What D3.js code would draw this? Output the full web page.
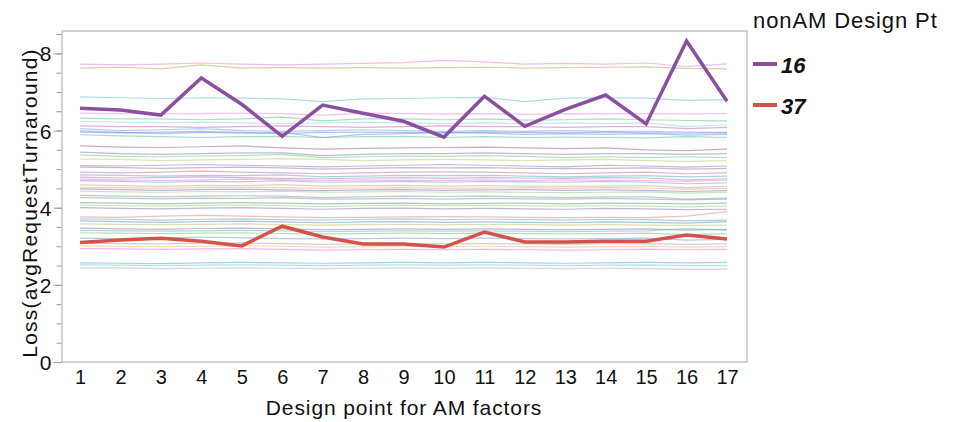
<!DOCTYPE html>
<html>
<head>
<meta charset="utf-8">
<script src="https://cdn.jsdelivr.net/npm/d3@7"></script>
<style>
  body { margin: 0; background: #fff; }
  svg text { font-family: "Liberation Sans", Arial, Helvetica, sans-serif; fill: #111; }
</style>
</head>
<body>
<svg id="chart" width="953" height="422"></svg>
<script>

// Design points for AM factors (x axis)
const designPoints = d3.range(1, 18);
const yTicks = [0, 2, 4, 6, 8];

// Highlighted nonAM design points
const pt16 = [6.58, 6.53, 6.40, 7.36, 6.68, 5.85, 6.66, 6.45, 6.24, 5.83, 6.89, 6.11, 6.55, 6.92, 6.17, 8.32, 6.76];
const pt37 = [3.10, 3.16, 3.21, 3.13, 3.01, 3.52, 3.24, 3.06, 3.06, 2.98, 3.37, 3.11, 3.11, 3.13, 3.13, 3.29, 3.19];

// Remaining nonAM design points (faint background lines)
const otherPts = [
    [7.72, 7.70, 7.72, 7.75, 7.72, 7.70, 7.72, 7.74, 7.76, 7.82, 7.78, 7.72, 7.74, 7.72, 7.75, 7.66, 7.73],
    [7.62, 7.64, 7.60, 7.70, 7.62, 7.63, 7.62, 7.63, 7.62, 7.63, 7.64, 7.62, 7.63, 7.64, 7.65, 7.61, 7.60],
    [6.87, 6.85, 6.83, 6.85, 6.84, 6.82, 6.75, 6.82, 6.83, 6.85, 6.86, 6.75, 6.84, 6.85, 6.84, 6.78, 6.80],
    [6.45, 6.44, 6.43, 6.44, 6.45, 6.44, 6.40, 6.45, 6.44, 6.43, 6.44, 6.42, 6.44, 6.43, 6.44, 6.43, 6.44],
    [6.32, 6.30, 6.30, 6.28, 6.30, 6.35, 6.25, 6.30, 6.30, 6.28, 6.30, 6.27, 6.28, 6.30, 6.28, 6.26, 6.25],
    [6.24, 6.22, 6.20, 6.22, 6.20, 6.18, 6.20, 6.22, 6.20, 6.18, 6.20, 6.18, 6.20, 6.18, 6.20, 6.10, 6.15],
    [6.12, 6.10, 6.10, 6.08, 6.10, 6.12, 6.10, 6.08, 6.10, 6.12, 6.10, 6.10, 6.08, 6.10, 6.10, 6.05, 6.08],
    [6.05, 6.00, 6.02, 6.05, 6.00, 5.98, 6.00, 6.02, 6.00, 5.98, 6.00, 5.98, 6.00, 5.98, 5.98, 5.96, 5.95],
    [5.99, 5.95, 5.92, 5.95, 5.93, 5.95, 5.82, 5.90, 5.92, 5.95, 5.93, 5.90, 5.92, 5.90, 5.92, 5.88, 5.90],
    [5.96, 5.94, 5.96, 5.98, 5.95, 5.92, 5.95, 5.96, 5.95, 5.94, 5.96, 5.95, 5.94, 5.96, 5.94, 5.93, 5.94],
    [5.89, 5.86, 5.84, 5.82, 5.84, 5.85, 5.82, 5.84, 5.85, 5.82, 5.84, 5.82, 5.83, 5.82, 5.81, 5.84, 5.82],
    [5.60, 5.57, 5.56, 5.58, 5.60, 5.55, 5.52, 5.54, 5.55, 5.56, 5.57, 5.55, 5.53, 5.55, 5.50, 5.48, 5.52],
    [5.44, 5.40, 5.38, 5.40, 5.42, 5.42, 5.35, 5.38, 5.40, 5.40, 5.42, 5.40, 5.38, 5.40, 5.40, 5.38, 5.40],
    [5.37, 5.33, 5.32, 5.34, 5.35, 5.38, 5.30, 5.32, 5.34, 5.33, 5.35, 5.33, 5.30, 5.32, 5.30, 5.32, 5.30],
    [5.26, 5.25, 5.22, 5.24, 5.25, 5.27, 5.25, 5.22, 5.24, 5.25, 5.24, 5.22, 5.24, 5.25, 5.22, 5.20, 5.22],
    [5.09, 5.08, 5.10, 5.12, 5.10, 5.08, 5.06, 5.08, 5.10, 5.12, 5.10, 5.08, 5.06, 5.10, 5.08, 5.05, 5.08],
    [5.05, 5.04, 5.02, 5.04, 5.05, 5.03, 5.00, 5.02, 5.04, 5.03, 5.04, 5.02, 5.01, 5.02, 5.03, 5.00, 5.02],
    [4.92, 4.90, 4.92, 4.95, 4.92, 4.90, 4.88, 4.90, 4.92, 4.93, 4.92, 4.90, 4.88, 4.90, 4.92, 4.88, 4.90],
    [4.85, 4.84, 4.82, 4.84, 4.83, 4.85, 4.80, 4.82, 4.84, 4.83, 4.84, 4.82, 4.80, 4.82, 4.83, 4.80, 4.82],
    [4.79, 4.77, 4.78, 4.80, 4.78, 4.76, 4.75, 4.77, 4.78, 4.76, 4.78, 4.77, 4.76, 4.78, 4.77, 4.72, 4.75],
    [4.74, 4.72, 4.70, 4.72, 4.74, 4.73, 4.70, 4.72, 4.71, 4.70, 4.72, 4.70, 4.72, 4.71, 4.70, 4.68, 4.72],
    [4.70, 4.68, 4.66, 4.68, 4.67, 4.70, 4.66, 4.67, 4.68, 4.66, 4.68, 4.67, 4.66, 4.68, 4.66, 4.62, 4.64],
    [4.59, 4.57, 4.55, 4.58, 4.57, 4.60, 4.56, 4.57, 4.58, 4.56, 4.57, 4.56, 4.55, 4.56, 4.57, 4.52, 4.55],
    [4.53, 4.52, 4.50, 4.52, 4.53, 4.52, 4.50, 4.51, 4.52, 4.50, 4.51, 4.52, 4.50, 4.52, 4.51, 4.48, 4.50],
    [4.49, 4.47, 4.45, 4.47, 4.48, 4.46, 4.44, 4.46, 4.47, 4.45, 4.46, 4.47, 4.45, 4.46, 4.45, 4.42, 4.44],
    [4.43, 4.41, 4.40, 4.42, 4.41, 4.43, 4.40, 4.41, 4.42, 4.40, 4.41, 4.40, 4.39, 4.40, 4.41, 4.38, 4.40],
    [4.32, 4.30, 4.28, 4.30, 4.31, 4.30, 4.26, 4.28, 4.30, 4.29, 4.30, 4.28, 4.26, 4.28, 4.28, 4.22, 4.25],
    [4.26, 4.25, 4.23, 4.25, 4.24, 4.26, 4.22, 4.23, 4.24, 4.22, 4.24, 4.23, 4.22, 4.24, 4.22, 4.20, 4.22],
    [4.13, 4.12, 4.10, 4.12, 4.13, 4.12, 4.10, 4.11, 4.12, 4.10, 4.11, 4.12, 4.10, 4.12, 4.11, 4.10, 4.12],
    [4.07, 4.05, 4.04, 4.06, 4.07, 4.05, 4.03, 4.05, 4.06, 4.05, 4.06, 4.05, 4.04, 4.05, 4.04, 4.02, 4.04],
    [4.00, 3.98, 3.97, 3.99, 4.00, 3.98, 3.96, 3.98, 3.99, 3.97, 3.98, 3.97, 3.96, 3.98, 3.97, 3.95, 3.96],
    [3.76, 3.75, 3.78, 3.80, 3.78, 3.76, 3.74, 3.75, 3.76, 3.77, 3.76, 3.75, 3.74, 3.75, 3.74, 3.78, 3.90],
    [3.71, 3.70, 3.68, 3.70, 3.71, 3.69, 3.68, 3.70, 3.71, 3.69, 3.70, 3.69, 3.68, 3.70, 3.69, 3.66, 3.68],
    [3.66, 3.64, 3.62, 3.64, 3.65, 3.63, 3.61, 3.63, 3.64, 3.62, 3.63, 3.62, 3.61, 3.63, 3.62, 3.60, 3.64],
    [3.58, 3.57, 3.56, 3.57, 3.58, 3.56, 3.55, 3.56, 3.57, 3.56, 3.57, 3.56, 3.55, 3.56, 3.55, 3.54, 3.55],
    [3.47, 3.45, 3.44, 3.46, 3.47, 3.45, 3.43, 3.44, 3.45, 3.44, 3.45, 3.44, 3.43, 3.44, 3.45, 3.42, 3.44],
    [3.41, 3.40, 3.39, 3.40, 3.41, 3.40, 3.38, 3.39, 3.40, 3.39, 3.40, 3.39, 3.38, 3.39, 3.40, 3.46, 3.42],
    [3.35, 3.34, 3.33, 3.34, 3.35, 3.33, 3.32, 3.33, 3.34, 3.33, 3.34, 3.33, 3.32, 3.33, 3.34, 3.30, 3.32],
    [3.21, 3.20, 3.22, 3.24, 3.22, 3.20, 3.19, 3.20, 3.21, 3.20, 3.21, 3.20, 3.19, 3.20, 3.21, 3.16, 3.18],
    [3.08, 3.07, 3.06, 3.08, 3.09, 3.07, 3.05, 3.06, 3.07, 3.06, 3.07, 3.06, 3.05, 3.06, 3.07, 3.05, 3.06],
    [3.01, 3.00, 2.99, 3.00, 3.01, 3.00, 2.98, 2.99, 3.00, 2.99, 3.00, 2.99, 2.98, 2.99, 3.00, 2.98, 2.99],
    [2.94, 2.93, 2.92, 2.93, 2.94, 2.92, 2.90, 2.91, 2.92, 2.91, 2.92, 2.91, 2.90, 2.91, 2.92, 2.91, 2.92],
    [2.57, 2.56, 2.55, 2.57, 2.58, 2.57, 2.56, 2.57, 2.58, 2.57, 2.58, 2.57, 2.56, 2.57, 2.58, 2.57, 2.58],
    [2.52, 2.51, 2.50, 2.51, 2.52, 2.51, 2.50, 2.51, 2.52, 2.51, 2.52, 2.51, 2.50, 2.51, 2.52, 2.50, 2.50],
    [2.44, 2.44, 2.42, 2.43, 2.44, 2.43, 2.42, 2.43, 2.44, 2.43, 2.44, 2.43, 2.42, 2.43, 2.42, 2.40, 2.41]
];

// Colours of the faint lines, in the same order
const fadedColours = [
    "#e07bd0", "#a8a850", "#5bb5d5", "#e48ad6", "#58c070", "#7fd3e6", "#c060b0", "#6aa0e8",
    "#9a70e0", "#5a90e0", "#40c0a0", "#a06060", "#7080b0", "#70c080", "#b0d060", "#8070d0",
    "#808090", "#e06090", "#40b0b0", "#b070c0", "#f080c0", "#7090e0", "#d0a070", "#c0b080",
    "#9060b0", "#80d080", "#a080d0", "#60b070", "#609090", "#90d060", "#8070b0", "#e08090",
    "#50b0a0", "#6080d0", "#c0c060", "#9070a0", "#40c0c0", "#70c070", "#7090d0", "#a0a0c0",
    "#e0c040", "#e070e0", "#60a0b0", "#50d0d0", "#b0a0d0"
];

const highlighted = [
    {label: "16", values: pt16, colour: "#8c4f9f"},
    {label: "37", values: pt37, colour: "#d5524b"}
];

const frame = {left: 62, top: 31, right: 747, bottom: 362};
const svg = d3.select("#chart");

const x = d3.scaleLinear()
    .domain([1, 17])
    .range([80, 727]);
const y = d3.scaleLinear()
    .domain([0, 8.58])
    .range([frame.bottom, frame.top]);

const line = d3.line()
    .x((d, i) => x(designPoints[i]))
    .y(d => y(d));

// Frame
svg.append("rect")
    .attr("x", frame.left)
    .attr("y", frame.top)
    .attr("width", frame.right - frame.left)
    .attr("height", frame.bottom - frame.top)
    .attr("fill", "none")
    .attr("stroke", "#c4c4c4")
    .attr("stroke-width", 1.5);

// Faint lines
svg.append("g")
    .selectAll("path")
    .data(otherPts)
    .join("path")
    .attr("fill", "none")
    .attr("stroke", (d, i) => fadedColours[i % fadedColours.length])
    .attr("stroke-opacity", 0.5)
    .attr("stroke-width", 1.2)
    .attr("d", line);

// Highlighted lines
svg.append("g")
    .selectAll("path")
    .data(highlighted)
    .join("path")
    .attr("fill", "none")
    .attr("stroke", d => d.colour)
    .attr("stroke-width", 3.5)
    .attr("stroke-linejoin", "miter")
    .attr("d", d => line(d.values));

// Y axis: minor ticks every 0.5, major every 2
const yMinor = svg.append("g")
    .attr("transform", `translate(${frame.left - 0.5}, 0)`)
    .call(d3.axisLeft(y).tickValues(d3.range(0, 8.6, 0.5)).tickSize(5).tickFormat(""));
const yMajor = svg.append("g")
    .attr("transform", `translate(${frame.left - 0.5}, 0)`)
    .call(d3.axisLeft(y).tickValues(yTicks).tickSize(8).tickPadding(2));
for (const g of [yMinor, yMajor]) {
    g.select(".domain").remove();
    g.selectAll(".tick line").attr("stroke", "#9a9a9a");
}
yMajor.selectAll(".tick text")
    .style("font-size", "21px")
    .attr("dy", "0.36em");

// X axis labels (no tick marks)
const xAxis = svg.append("g")
    .attr("transform", `translate(0, ${frame.bottom})`)
    .call(d3.axisBottom(x).tickValues(designPoints).tickSize(0).tickPadding(8).tickFormat(d3.format("d")));
xAxis.select(".domain").remove();
xAxis.selectAll(".tick text")
    .style("font-size", "20px")
    .attr("dy", "0.71em");

// Axis titles
svg.append("text")
    .attr("x", 404)
    .attr("y", 415)
    .attr("text-anchor", "middle")
    .style("font-size", "21px")
    .style("letter-spacing", "0.9px")
    .text("Design point for AM factors");
svg.append("text")
    .attr("transform", "translate(37, 203) rotate(-90)")
    .attr("text-anchor", "middle")
    .style("font-size", "21px")
    .style("letter-spacing", "1.2px")
    .text("Loss(avgRequestTurnaround)");

// Legend
const legend = svg.append("g").attr("transform", "translate(753, 0)");
legend.append("text")
    .attr("x", 0)
    .attr("y", 28)
    .style("font-size", "22px")
    .style("letter-spacing", "0.9px")
    .text("nonAM Design Pt");
const entries = legend.selectAll("g.entry")
    .data(highlighted)
    .join("g")
    .attr("class", "entry")
    .attr("transform", (d, i) => `translate(0, ${64 + i * 41})`);
entries.append("line")
    .attr("x1", 0).attr("x2", 24)
    .attr("stroke", d => d.colour)
    .attr("stroke-width", 4);
entries.append("text")
    .attr("x", 28)
    .attr("y", 9)
    .style("font-size", "22px")
    .style("font-weight", "bold")
    .style("font-style", "italic")
    .text(d => d.label);

</script>
</body>
</html>
